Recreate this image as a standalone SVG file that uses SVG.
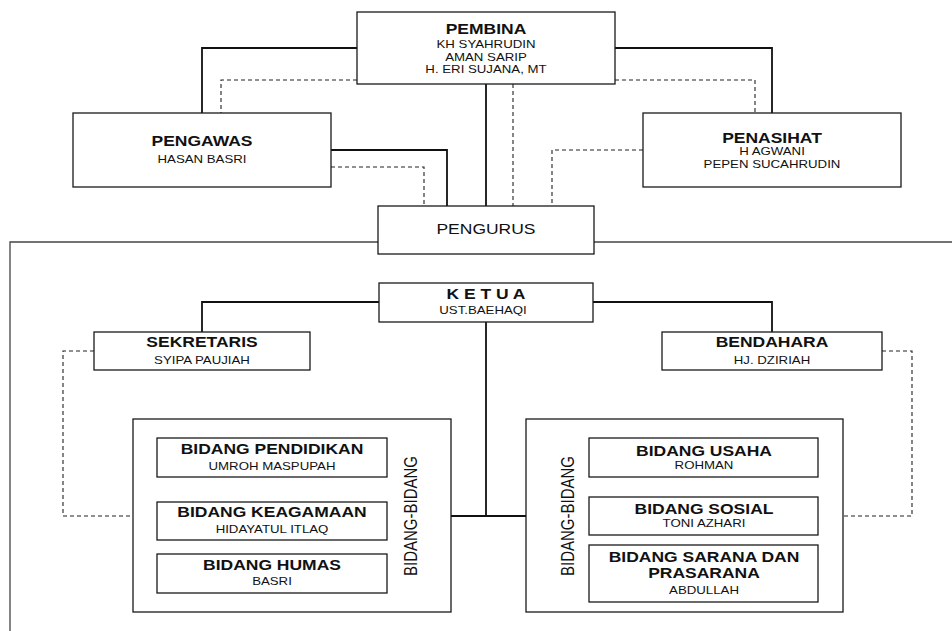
<svg xmlns="http://www.w3.org/2000/svg" width="952" height="631" viewBox="0 0 952 631">
<style>
text{font-family:"Liberation Sans",Arial,sans-serif;text-anchor:middle;fill:#111}
.t{font-size:14px;font-weight:bold}
.s{font-size:10.6px}
.r{font-size:14px}
.v{font-size:15px}
.box{fill:#fff;stroke:#1a1a1a;stroke-width:1.3}
.ln{fill:none;stroke:#111;stroke-width:1.8}
.dl{fill:none;stroke:#222;stroke-width:1.1;stroke-dasharray:4 3}
.big{fill:none;stroke:#444;stroke-width:1.3}
</style>
<rect width="952" height="631" fill="#fff"/>
<g id="connectors">
<path class="big" d="M10,631 V242 H378 M594,242 H952"/>
<path class="ln" d="M357,48 H202 V113 M615,48 H772 V113 M486,84 V206 M331,150 H447 V206"/>
<path class="dl" d="M357,80 H221 V113 M615,80 H755 V113 M513,84 V206 M331,167 H424 V206 M643,150 H552 V206"/>
<path class="ln" d="M379,302 H202 V332 M593,302 H772 V332 M486,322 V516 M451,516 H526"/>
<path class="dl" d="M94,351 H63 V516 H133 M882,351 H912 V516 H843"/>
<path class="ln" d="M272,477 V502 M272,540 V554 M704,477 V497 M704,535 V545"/>
</g>
<g id="pembina">
<rect class="box" x="357" y="12" width="258" height="72"/>
<text class="t" transform="matrix(1.25 0 0 1 486 34)">PEMBINA</text>
<text class="s" transform="matrix(1.25 0 0 1 486 48)">KH SYAHRUDIN</text>
<text class="s" transform="matrix(1.25 0 0 1 486 61)">AMAN SARIP</text>
<text class="s" transform="matrix(1.25 0 0 1 486 73)">H. ERI SUJANA, MT</text>
</g>
<g id="pengawas">
<rect class="box" x="73" y="113" width="258" height="74"/>
<text class="t" transform="matrix(1.25 0 0 1 202 146)">PENGAWAS</text>
<text class="s" transform="matrix(1.25 0 0 1 202 163)">HASAN BASRI</text>
</g>
<g id="penasihat">
<rect class="box" x="643" y="113" width="258" height="74"/>
<text class="t" transform="matrix(1.25 0 0 1 772 142.5)">PENASIHAT</text>
<text class="s" transform="matrix(1.25 0 0 1 772 155)">H AGWANI</text>
<text class="s" transform="matrix(1.25 0 0 1 772 167.5)">PEPEN SUCAHRUDIN</text>
</g>
<g id="pengurus">
<rect class="box" x="378" y="206" width="216" height="48"/>
<text class="r" transform="matrix(1.25 0 0 1 486 234)">PENGURUS</text>
</g>
<g id="ketua">
<rect class="box" x="379" y="283" width="214" height="39"/>
<text class="t" transform="matrix(1.25 0 0 1 486 299)">K E T U A</text>
<text class="s" transform="matrix(1.25 0 0 1 483 314)">UST.BAEHAQI</text>
</g>
<g id="sekretaris">
<rect class="box" x="94" y="332" width="216" height="38"/>
<text class="t" transform="matrix(1.25 0 0 1 202 347)">SEKRETARIS</text>
<text class="s" transform="matrix(1.25 0 0 1 202 364)">SYIPA PAUJIAH</text>
</g>
<g id="bendahara">
<rect class="box" x="662" y="332" width="220" height="38"/>
<text class="t" transform="matrix(1.25 0 0 1 772 347)">BENDAHARA</text>
<text class="s" transform="matrix(1.25 0 0 1 772 363.5)">HJ. DZIRIAH</text>
</g>
<g id="bidang-kiri">
<rect class="box" x="133" y="419" width="318" height="193"/>
<text class="v" transform="matrix(1.25 0 0 1 416.7 516) rotate(-90)">BIDANG-BIDANG</text>
</g>
<g id="bidang-pendidikan">
<rect class="box" x="157" y="438" width="230" height="39"/>
<text class="t" transform="matrix(1.25 0 0 1 272 454)">BIDANG PENDIDIKAN</text>
<text class="s" transform="matrix(1.25 0 0 1 272 470)">UMROH MASPUPAH</text>
</g>
<g id="bidang-keagamaan">
<rect class="box" x="157" y="502" width="230" height="38"/>
<text class="t" transform="matrix(1.25 0 0 1 272 517.3)">BIDANG KEAGAMAAN</text>
<text class="s" transform="matrix(1.25 0 0 1 272 533)">HIDAYATUL ITLAQ</text>
</g>
<g id="bidang-humas">
<rect class="box" x="157" y="554" width="230" height="39"/>
<text class="t" transform="matrix(1.25 0 0 1 272 570)">BIDANG HUMAS</text>
<text class="s" transform="matrix(1.25 0 0 1 272 585)">BASRI</text>
</g>
<g id="bidang-kanan">
<rect class="box" x="526" y="419" width="317" height="193"/>
<text class="v" transform="matrix(1.25 0 0 1 573.7 516) rotate(-90)">BIDANG-BIDANG</text>
</g>
<g id="bidang-usaha">
<rect class="box" x="589" y="438" width="229" height="39"/>
<text class="t" transform="matrix(1.25 0 0 1 704 456)">BIDANG USAHA</text>
<text class="s" transform="matrix(1.25 0 0 1 704 468.5)">ROHMAN</text>
</g>
<g id="bidang-sosial">
<rect class="box" x="589" y="497" width="229" height="38"/>
<text class="t" transform="matrix(1.25 0 0 1 704 514)">BIDANG SOSIAL</text>
<text class="s" transform="matrix(1.25 0 0 1 704 527)">TONI AZHARI</text>
</g>
<g id="bidang-sarana">
<rect class="box" x="589" y="545" width="229" height="57"/>
<text class="t" transform="matrix(1.25 0 0 1 704 562)">BIDANG SARANA DAN</text>
<text class="t" transform="matrix(1.25 0 0 1 704 578)">PRASARANA</text>
<text class="s" transform="matrix(1.25 0 0 1 704 594)">ABDULLAH</text>
</g>
</svg>
